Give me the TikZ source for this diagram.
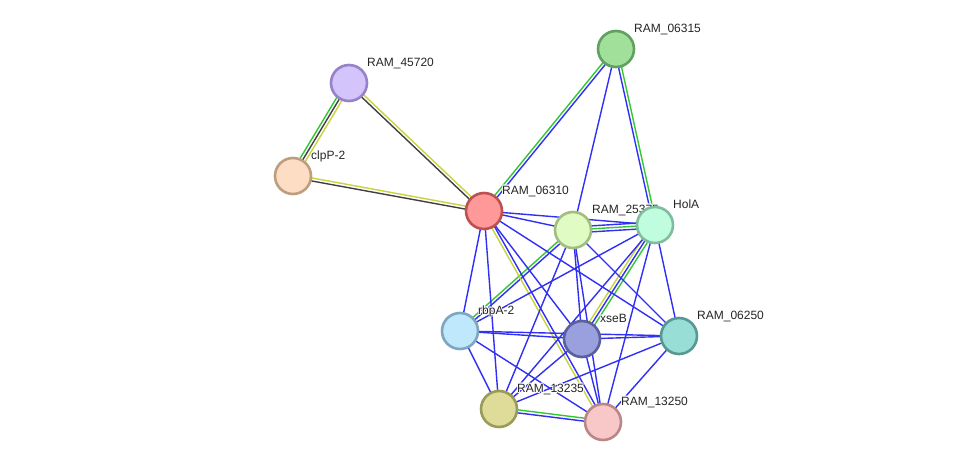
\documentclass[tikz,border=0pt]{standalone}
\usepackage{fontspec}
\setmainfont{Liberation Sans}
\usetikzlibrary{calc}
\pgfdeclarelayer{paper}
\pgfdeclarelayer{edges}
\pgfdeclarelayer{labels}
\pgfsetlayers{paper,edges,labels,main}
\definecolor{eblue}{RGB}{48,48,245}
\definecolor{egreen}{RGB}{50,200,50}
\definecolor{eyellow}{RGB}{200,212,60}
\definecolor{edark}{RGB}{64,64,64}
\newcommand\edgepar[4]{\draw[#1] ($(#2.center)!#4!90:(#3.center)$) -- ($(#3.center)!#4!-90:(#2.center)$);}
\newcommand\halotxt[1]{\leavevmode
  \rlap{\color{white}\hspace{-0.8pt}#1}\rlap{\color{white}\hspace{0.8pt}#1}%
  \rlap{\color{white}\raisebox{0.8pt}{#1}}\rlap{\color{white}\raisebox{-0.8pt}{#1}}%
  \rlap{\color{white}\hspace{0.6pt}\raisebox{0.6pt}{#1}}\rlap{\color{white}\hspace{-0.6pt}\raisebox{-0.6pt}{#1}}%
  \rlap{\color{white}\hspace{0.6pt}\raisebox{-0.6pt}{#1}}\rlap{\color{white}\hspace{-0.6pt}\raisebox{0.6pt}{#1}}%
  #1}
\begin{document}
\begin{tikzpicture}[x=1pt,y=-1pt,
  prot/.style={circle,minimum size=36pt,line width=2.6pt,inner sep=0pt},
  lab/.style={anchor=base west,font=\fontsize{12}{14}\selectfont,inner sep=0pt,text=black!85},
  eb/.style={line width=1.4pt,draw=eblue},
  eg/.style={line width=1.4pt,draw=egreen},
  ey/.style={line width=1.4pt,draw=eyellow},
  ed/.style={line width=1.4pt,draw=edark}]
\begin{pgfonlayer}{paper}
\path[fill=white] (0,0) rectangle (976,468);
\end{pgfonlayer}
\useasboundingbox (0,0) rectangle (976,468);

\node[prot,fill={rgb,255:red,212;green,196;blue,252},draw={rgb,255:red,150;green,130;blue,200}] (n45720) at (349,83) {};
\node[prot,fill={rgb,255:red,253;green,222;blue,196},draw={rgb,255:red,190;green,158;blue,126}] (nclpP) at (293,176) {};
\node[prot,fill={rgb,255:red,255;green,152;blue,152},draw={rgb,255:red,190;green,80;blue,80}] (n06310) at (484,211) {};
\node[prot,fill={rgb,255:red,160;green,224;blue,154},draw={rgb,255:red,96;green,160;blue,96}] (n06315) at (616,49) {};
\node[prot,fill={rgb,255:red,224;green,252;blue,196},draw={rgb,255:red,160;green,190;blue,128}] (n25375) at (573,230) {};
\node[prot,fill={rgb,255:red,192;green,252;blue,222},draw={rgb,255:red,128;green,188;blue,158}] (nHolA) at (655,225) {};
\node[prot,fill={rgb,255:red,192;green,232;blue,252},draw={rgb,255:red,126;green,166;blue,192}] (nrbpA) at (460,331) {};
\node[prot,fill={rgb,255:red,154;green,160;blue,222},draw={rgb,255:red,90;green,96;blue,158}] (nxseB) at (582,339) {};
\node[prot,fill={rgb,255:red,152;green,222;blue,214},draw={rgb,255:red,88;green,152;blue,146}] (n06250) at (679,336) {};
\node[prot,fill={rgb,255:red,222;green,220;blue,152},draw={rgb,255:red,154;green,154;blue,90}] (n13235) at (499,409) {};
\node[prot,fill={rgb,255:red,248;green,200;blue,200},draw={rgb,255:red,184;green,136;blue,136}] (n13250) at (603,422) {};

\begin{pgfonlayer}{labels}
\node[lab] (l45720) at ($(n45720.center)+(18,-16.5)$) {\halotxt{RAM\_45720}};
\node[lab] (lclpP) at ($(nclpP.center)+(18,-16.5)$) {\halotxt{clpP-2}};
\node[lab] (l06310) at ($(n06310.center)+(18,-16.5)$) {\halotxt{RAM\_06310}};
\node[lab] (l06315) at ($(n06315.center)+(18,-16.5)$) {\halotxt{RAM\_06315}};
\node[lab] (l25375) at ($(n25375.center)+(19,-16.5)$) {\halotxt{RAM\_25375}};
\node[lab] (lHolA) at ($(nHolA.center)+(18,-16.5)$) {\halotxt{HolA}};
\node[lab] (lrbpA) at ($(nrbpA.center)+(18,-16.5)$) {\halotxt{rbpA-2}};
\node[lab] (lxseB) at ($(nxseB.center)+(18,-16.5)$) {\halotxt{xseB}};
\node[lab] (l06250) at ($(n06250.center)+(18,-16.5)$) {\halotxt{RAM\_06250}};
\node[lab] (l13235) at ($(n13235.center)+(18,-16.5)$) {\halotxt{RAM\_13235}};
\node[lab] (l13250) at ($(n13250.center)+(18,-16.5)$) {\halotxt{RAM\_13250}};
\end{pgfonlayer}

\begin{pgfonlayer}{edges}
% multi-evidence edges
\edgepar{eg}{n45720}{nclpP}{-3pt}
\edgepar{ed}{n45720}{nclpP}{0pt}
\edgepar{ey}{n45720}{nclpP}{3pt}
\edgepar{ey}{n45720}{n06310}{1.5pt}
\edgepar{ed}{n45720}{n06310}{-1.5pt}
\edgepar{ey}{nclpP}{n06310}{1.5pt}
\edgepar{ed}{nclpP}{n06310}{-1.5pt}
\edgepar{eg}{n06310}{n06315}{1.5pt}
\edgepar{eb}{n06310}{n06315}{-1.5pt}
\edgepar{eg}{n06315}{nHolA}{1.5pt}
\edgepar{eb}{n06315}{nHolA}{-1.5pt}
\edgepar{eb}{n25375}{nHolA}{3pt}
\edgepar{eg}{n25375}{nHolA}{0pt}
\edgepar{eb}{n25375}{nHolA}{-3pt}
\edgepar{eb}{n25375}{nrbpA}{1.5pt}
\edgepar{eg}{n25375}{nrbpA}{-1.5pt}
\edgepar{ey}{nHolA}{nxseB}{-3pt}
\edgepar{eb}{nHolA}{nxseB}{0pt}
\edgepar{eg}{nHolA}{nxseB}{3pt}
\edgepar{eb}{n06310}{n13250}{1.5pt}
\edgepar{ey}{n06310}{n13250}{-1.5pt}
\edgepar{eg}{n13235}{n13250}{1.5pt}
\edgepar{eb}{n13235}{n13250}{-1.5pt}
% single blue edges
\draw[eb] (n06310.center) -- (n25375.center);
\draw[eb] (n06310.center) -- (nHolA.center);
\draw[eb] (n06310.center) -- (nrbpA.center);
\draw[eb] (n06310.center) -- (nxseB.center);
\draw[eb] (n06310.center) -- (n06250.center);
\draw[eb] (n06310.center) -- (n13235.center);
\draw[eb] (n06315.center) -- (n25375.center);
\draw[eb] (n25375.center) -- (nxseB.center);
\draw[eb] (n25375.center) -- (n13235.center);
\draw[eb] (n25375.center) -- (n13250.center);
\draw[eb] (n25375.center) -- (n06250.center);
\draw[eb] (nHolA.center) -- (nrbpA.center);
\draw[eb] (nHolA.center) -- (n13235.center);
\draw[eb] (nHolA.center) -- (n13250.center);
\draw[eb] (nHolA.center) -- (n06250.center);
\draw[eb] (nrbpA.center) -- (nxseB.center);
\draw[eb] (nrbpA.center) -- (n06250.center);
\draw[eb] (nrbpA.center) -- (n13235.center);
\draw[eb] (nrbpA.center) -- (n13250.center);
\draw[eb] (nxseB.center) -- (n06250.center);
\draw[eb] (nxseB.center) -- (n13235.center);
\draw[eb] (nxseB.center) -- (n13250.center);
\draw[eb] (n06250.center) -- (n13235.center);
\draw[eb] (n06250.center) -- (n13250.center);
\end{pgfonlayer}
\end{tikzpicture}
\end{document}
